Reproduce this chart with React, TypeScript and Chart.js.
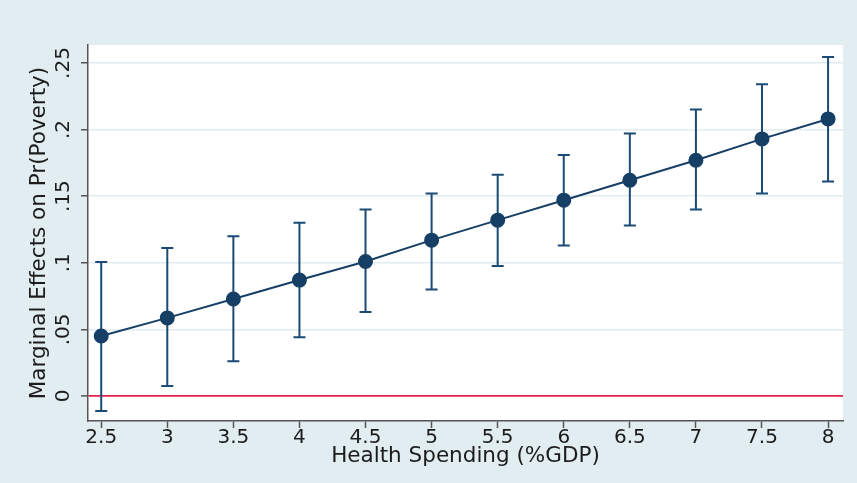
import React, { useEffect, useRef } from "react";
import { Chart, registerables } from "chart.js";

Chart.register(...registerables);

const spending = [2.5, 3, 3.5, 4, 4.5, 5, 5.5, 6, 6.5, 7, 7.5, 8];
const marginalEffect = [0.045, 0.0586, 0.0728, 0.087, 0.101, 0.117, 0.132, 0.147, 0.162, 0.177, 0.193, 0.208];
const upperCI = [0.1006, 0.111, 0.12, 0.13, 0.14, 0.152, 0.166, 0.181, 0.197, 0.215, 0.234, 0.2545];
const lowerCI = [-0.0113, 0.0075, 0.026, 0.044, 0.063, 0.08, 0.0976, 0.113, 0.128, 0.14, 0.152, 0.161];

const xTicks = [2.5, 3, 3.5, 4, 4.5, 5, 5.5, 6, 6.5, 7, 7.5, 8];
const xTickLabels = ["2.5", "3", "3.5", "4", "4.5", "5", "5.5", "6", "6.5", "7", "7.5", "8"];
const yTicks = [0, 0.05, 0.1, 0.15, 0.2, 0.25];
const yTickLabels = ["0", ".05", ".1", ".15", ".2", ".25"];

const xTitle = "Health Spending (%GDP)";
const yTitle = "Marginal Effects on Pr(Poverty)";

const BG = "#e1edf0";
const NAVY = "#163f66";
const BAR = "#1a4a75";
const RED = "#e5204a";
const AXIS = "#555555";
const GRID = "#e2edf1";
const TEXT = "#1c1c1c";
const FONT = "'DejaVu Sans', sans-serif";

export default function App() {
  const canvasRef = useRef<HTMLCanvasElement | null>(null);

  useEffect(() => {
    const canvas = canvasRef.current;
    if (!canvas) return;

    const bgPlugin = {
      id: "bgPlugin",
      beforeDraw(chart: any) {
        const { ctx, chartArea, width, height } = chart;
        ctx.save();
        ctx.fillStyle = BG;
        ctx.fillRect(0, 0, width, height);
        ctx.fillStyle = "#ffffff";
        ctx.fillRect(chartArea.left, chartArea.top, chartArea.right - chartArea.left, chartArea.bottom - chartArea.top);
        ctx.restore();
      },
    };

    const errorBarPlugin = {
      id: "errorBars",
      beforeDatasetsDraw(chart: any) {
        const { ctx, scales } = chart;
        const xs = scales.x;
        const ys = scales.y;
        ctx.save();
        ctx.strokeStyle = BAR;
        ctx.lineWidth = 2;
        const cap = 6;
        spending.forEach((xv, i) => {
          const px = xs.getPixelForValue(xv);
          const pu = ys.getPixelForValue(upperCI[i]);
          const pl = ys.getPixelForValue(lowerCI[i]);
          ctx.beginPath();
          ctx.moveTo(px, pu);
          ctx.lineTo(px, pl);
          ctx.moveTo(px - cap, pu);
          ctx.lineTo(px + cap, pu);
          ctx.moveTo(px - cap, pl);
          ctx.lineTo(px + cap, pl);
          ctx.stroke();
        });
        ctx.restore();
      },
    };

    const chart = new Chart(canvas, {
      type: "scatter",
      data: {
        datasets: [
          {
            data: spending.map((x, i) => ({ x, y: marginalEffect[i] })),
            showLine: true,
            borderColor: NAVY,
            borderWidth: 2,
            backgroundColor: NAVY,
            pointBackgroundColor: NAVY,
            pointBorderColor: NAVY,
            pointRadius: 6.5,
            pointHoverRadius: 6.5,
            tension: 0,
          },
        ],
      },
      options: {
        responsive: false,
        animation: false,
        events: [],
        layout: { padding: { top: 45, right: 14, left: 0, bottom: 0 } },
        plugins: {
          legend: { display: false },
          tooltip: { enabled: false },
          title: { display: false },
        },
        scales: {
          x: {
            type: "linear",
            min: 2.4,
            max: 8.113,
            afterBuildTicks: (scale: any) => {
              scale.ticks = xTicks.map((v) => ({ value: v }));
            },
            afterFit: (scale: any) => {
              scale.height = 62;
            },
            ticks: {
              callback: (_v: any, i: number) => xTickLabels[i],
              color: TEXT,
              font: { family: FONT, size: 20, lineHeight: 1 },
              padding: 0,
              maxRotation: 0,
              minRotation: 0,
              autoSkip: false,
            },
            grid: {
              drawOnChartArea: false,
              drawTicks: true,
              tickLength: 7,
              tickColor: AXIS,
              tickWidth: 1.5,
            },
            border: { display: true, color: AXIS, width: 1.5 },
            title: {
              display: true,
              text: xTitle,
              color: TEXT,
              font: { family: FONT, size: 21.5, lineHeight: 1.2 },
              padding: { top: 0, bottom: 14 },
            },
          },
          y: {
            type: "linear",
            min: -0.0188,
            max: 0.2635,
            afterBuildTicks: (scale: any) => {
              scale.ticks = yTicks.map((v) => ({ value: v }));
            },
            afterFit: (scale: any) => {
              scale.width = 88;
            },
            ticks: {
              callback: (_v: any, i: number) => yTickLabels[i],
              color: TEXT,
              font: { family: FONT, size: 20, lineHeight: 1 },
              padding: 1,
              minRotation: 90,
              maxRotation: 90,
              crossAlign: "center",
              autoSkip: false,
            },
            grid: {
              drawOnChartArea: true,
              color: (c: any) => (c.tick && Math.abs(c.tick.value) < 1e-9 ? RED : GRID),
              lineWidth: (c: any) => (c.tick && Math.abs(c.tick.value) < 1e-9 ? 1.8 : 1.5),
              drawTicks: true,
              tickLength: 7,
              tickColor: AXIS,
              tickWidth: 1.5,
            },
            border: { display: true, color: AXIS, width: 1.5 },
            title: {
              display: true,
              text: yTitle,
              color: TEXT,
              font: { family: FONT, size: 21.5, lineHeight: 1.2 },
              padding: { top: 27, bottom: 0 },
            },
          },
        },
      },
      plugins: [bgPlugin, errorBarPlugin],
    } as any);

    return () => {
      chart.destroy();
    };
  }, []);

  return (
    <div style={{ position: "fixed", left: 0, top: 0, width: 857, height: 483, background: BG }}>
      <canvas ref={canvasRef} width={857} height={483} style={{ width: 857, height: 483, display: "block" }} />
    </div>
  );
}
